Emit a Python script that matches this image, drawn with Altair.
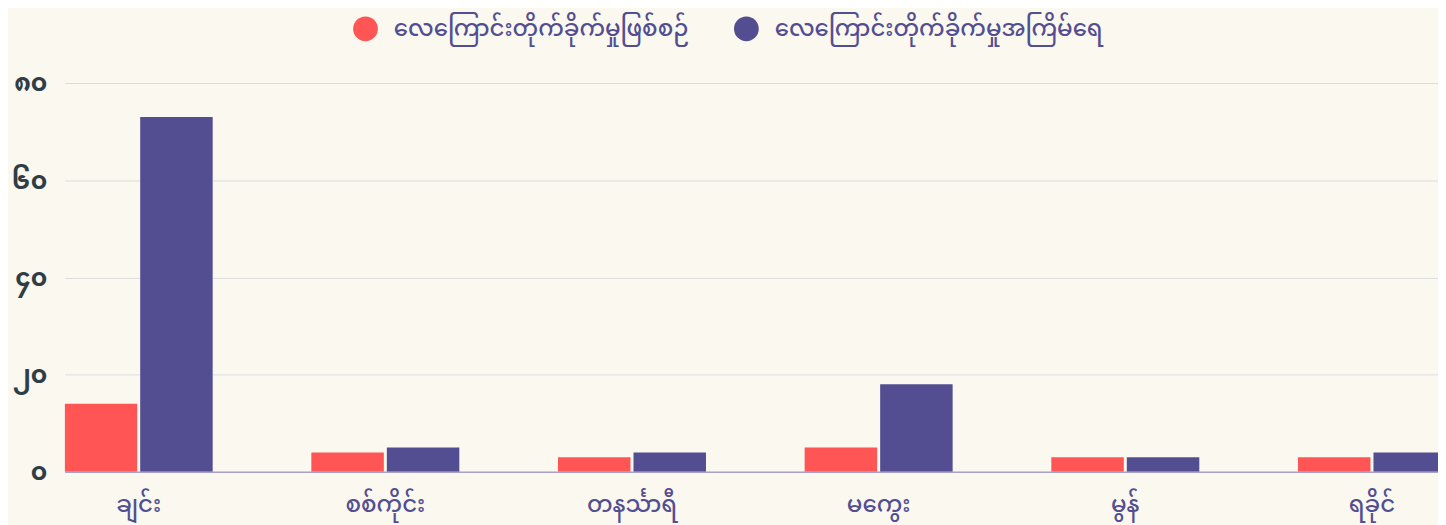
import altair as alt
import pandas as pd

regions = ["ချင်း", "စစ်ကိုင်း", "တနင်္သာရီ", "မကွေး", "မွန်", "ရခိုင်"]
incidents = [14, 4, 3, 5, 3, 3]
attacks = [73, 5, 4, 18, 3, 4]
series = ["လေကြောင်းတိုက်ခိုက်မှုဖြစ်စဉ်", "လေကြောင်းတိုက်ခိုက်မှုအကြိမ်ရေ"]
colors = ["#FF5555", "#534E92"]
y_ticks = [0, 20, 40, 60, 80]
y_tick_labels = ["၀", "၂၀", "၄၀", "၆၀", "၈၀"]

rows = []
for r, a, b in zip(regions, incidents, attacks):
    rows.append({"region": r, "series": series[0], "value": a})
    rows.append({"region": r, "series": series[1], "value": b})
df = pd.DataFrame(rows)

FONT = "Noto Sans Myanmar, Padauk, Myanmar Text, Noto Sans, sans-serif"
label_expr = "[" + ",".join("'" + s + "'" for s in y_tick_labels) + "][datum.value/20]"

chart = alt.Chart(df).mark_bar(clip=True).encode(
    x=alt.X("region:N", sort=regions, title=None,
            scale=alt.Scale(range=[0, 1389], paddingInner=0.4, paddingOuter=0),
            axis=alt.Axis(labelAngle=0, labelColor="#534E92", labelFontSize=23,
                          labelFontWeight=500, labelFont=FONT, labelPadding=22,
                          ticks=False, domainColor="#A8A2C8", domainWidth=1.5,
                          grid=False)),
    xOffset=alt.XOffset("series:N", sort=series,
                        scale=alt.Scale(paddingInner=0.04, paddingOuter=0)),
    y=alt.Y("value:Q", title=None,
            scale=alt.Scale(domain=[0, 80], nice=False),
            axis=alt.Axis(values=y_ticks, labelExpr=label_expr, labelColor="#2F3E46",
                          labelFontSize=25, labelFontWeight="bold", labelFont=FONT,
                          labelPadding=18, ticks=False, domain=False,
                          gridColor="#DDDCE0", gridWidth=1)),
    color=alt.Color("series:N", sort=series,
                    scale=alt.Scale(domain=series, range=colors),
                    legend=alt.Legend(title=None, orient="none", direction="horizontal",
                                      legendX=290, legendY=-67,
                                      symbolType="circle", symbolSize=620,
                                      symbolStrokeWidth=0, symbolOpacity=1,
                                      labelFont=FONT, labelFontSize=23,
                                      labelFontWeight=500,
                                      labelColor="#534E92", labelOffset=16,
                                      columnPadding=45, labelLimit=500)),
).properties(
    width=1381,
    height=391,
    background="#FAF8EF",
    padding={"left": 57, "top": 74, "right": 0, "bottom": 52},
    autosize=alt.AutoSizeParams(type="none"),
).configure_view(stroke=None)

chart.save("out.html", embed_options={"renderer": "svg", "actions": False})
